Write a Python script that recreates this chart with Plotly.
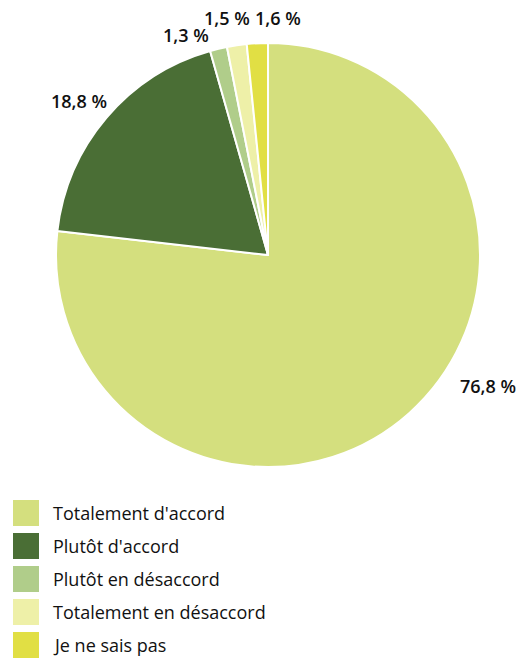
import math
import plotly.graph_objects as go

labels = ["Totalement d'accord", "Plutôt d'accord", "Plutôt en désaccord",
          "Totalement en désaccord", "Je ne sais pas"]
values = [76.8, 18.8, 1.3, 1.5, 1.6]
colors = ["#d4df7e", "#4a6e35", "#b0cd8a", "#eef0a8", "#e1df44"]
# label offsets from the slice's outer mid-point (pixels)
label_offsets = [(79, -27), (-27, -17), (-33, -14), (-10, -27), (21, -25)]

W, H = 523, 659
cx, cy, R = 268, 255, 212  # pie centre / radius in pixels
dom_x = [(cx - R) / W, (cx + R) / W]
dom_y = [1 - (cy + R) / H, 1 - (cy - R) / H]

fig = go.Figure()
fig.add_trace(go.Pie(
    labels=labels, values=values, sort=False, direction="clockwise", rotation=0,
    marker=dict(colors=colors, line=dict(color="white", width=2)),
    textinfo="none", hoverinfo="skip", showlegend=False,
    domain=dict(x=dom_x, y=dom_y),
))

total = sum(values)
cum = 0.0
for v, (ox, oy) in zip(values, label_offsets):
    mid = (cum + v / 2) / total * 2 * math.pi
    cum += v
    px = cx + R * math.sin(mid)
    py = cy - R * math.cos(mid)
    txt = f"{v:.1f}".replace(".", ",") + " %"
    fig.add_annotation(xref="paper", yref="paper", x=px / W, y=1 - py / H,
                       text=txt, showarrow=True, arrowcolor="rgba(0,0,0,0)",
                       arrowwidth=0.1, ax=ox, ay=oy,
                       font=dict(family="Open Sans", size=18, color="#111111", weight=600))

# custom legend (large square swatches)
x0, sw, y_first, pitch = 13, 26, 513, 33
for i, (lab, col) in enumerate(zip(labels, colors)):
    yc = y_first + i * pitch
    fig.add_shape(type="rect", xref="paper", yref="paper",
                  x0=x0 / W, x1=(x0 + sw) / W,
                  y0=1 - (yc + sw / 2) / H, y1=1 - (yc - sw / 2) / H,
                  fillcolor=col, line=dict(width=0))
    fig.add_annotation(xref="paper", yref="paper", x=51 / W, y=1 - yc / H,
                       xanchor="left", yanchor="middle", text=lab, showarrow=False,
                       font=dict(family="Open Sans", size=18, color="#111111"))

fig.update_layout(width=W, height=H, margin=dict(l=0, r=0, t=0, b=0),
                  paper_bgcolor="white", plot_bgcolor="white", separators=", ")
fig.write_html("out.html", config={"displayModeBar": False})
with open("out.html", encoding="utf-8") as f:
    html = f.read()
html = html.replace("<head>", "<head><style>html,body{margin:0;padding:0;overflow:hidden}</style>", 1)
with open("out.html", "w", encoding="utf-8") as f:
    f.write(html)
